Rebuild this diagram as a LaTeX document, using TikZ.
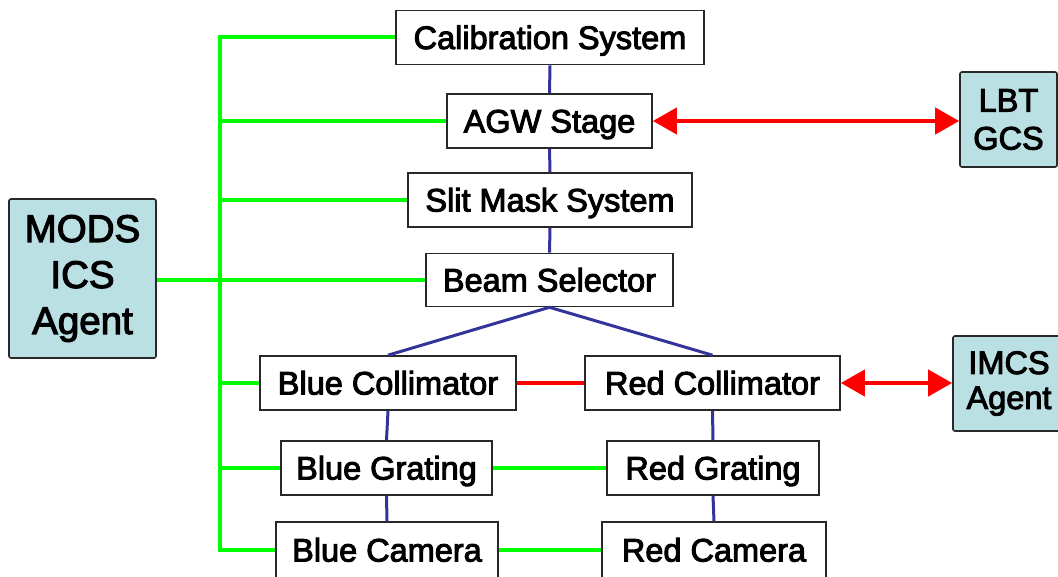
\documentclass[tikz,border=0pt]{standalone}
\usepackage{fontspec}
\setmainfont{Liberation Sans}
\newfontfamily\diagfont{Liberation Sans}[FakeBold=3]
\usetikzlibrary{arrows.meta}
\definecolor{busgreen}{RGB}{0,255,0}
\definecolor{navyline}{RGB}{51,51,153}
\definecolor{agentfill}{RGB}{187,224,227}
\definecolor{edgegray}{RGB}{40,40,40}
\begin{document}
\begin{tikzpicture}[x=1pt,y=-1pt,
  box/.style={draw=edgegray, line width=1.6pt, fill=white, inner sep=0pt,
    minimum height=54pt, text height=23pt, text depth=0pt,
    font=\diagfont\fontsize{32.5}{36}\selectfont},
  agent/.style={draw=edgegray, line width=1.6pt, fill=agentfill, rounded corners=2pt,
    inner sep=0pt, align=center},
  gline/.style={draw=busgreen, line width=4pt},
  bline/.style={draw=navyline, line width=3pt},
  rline/.style={draw=red, line width=4pt},
  rarrow/.style={rline, {Triangle[length=24pt,width=26pt]}-{Triangle[length=24pt,width=26pt]}}
]
\useasboundingbox (0,0) rectangle (1058,577);

% nodes
\node[box, minimum width=308pt] (cal) at (550,37.5) {Calibration System};
\node[box, minimum width=205pt] (agw) at (549.5,121) {AGW Stage};
\node[box, minimum width=284pt] (slit) at (550,200) {Slit Mask System};
\node[box, minimum width=247pt, minimum height=53pt] (beam) at (549.5,280) {Beam Selector};
\node[box, minimum width=256pt] (bcol) at (388,383) {Blue Collimator};
\node[box, minimum width=255pt] (rcol) at (712.5,383) {Red Collimator};
\node[box, minimum width=211pt] (bgr) at (386.5,468) {Blue Grating};
\node[box, minimum width=212pt] (rgr) at (713,468) {Red Grating};
\node[box, minimum width=222pt, minimum height=56pt] (bcam) at (387,550) {Blue Camera};
\node[box, minimum width=224pt, minimum height=56pt] (rcam) at (714,550) {Red Camera};

\node[agent, minimum width=147pt, minimum height=159pt,
  font=\diagfont\fontsize{38.5}{46}\selectfont] (mods) at (82.5,278.5) {MODS\\ICS\\Agent};
\node[agent, minimum width=97pt, minimum height=95pt,
  font=\diagfont\fontsize{32.5}{38}\selectfont] (lbt) at (1008.5,119.5) {LBT\\GCS};
\node[agent, minimum width=112pt, minimum height=95pt,
  font=\diagfont\fontsize{32.5}{35}\selectfont] (imcs) at (1009,383.5) {IMCS\\Agent};

% green control bus
\coordinate (busb) at (220,550);
\draw[gline] (cal.west) -| (busb) -- (bcam.west);
\draw[gline] (agw.west) -- (agw.west -| busb);
\draw[gline] (slit.west) -- (slit.west -| busb);
\draw[gline] (mods.east |- beam.west) -- (beam.west);
\draw[gline] (bcol.west) -- (bcol.west -| busb);
\draw[gline] (bgr.west) -- (bgr.west -| busb);
\draw[gline] (bgr.east) -- (rgr.west);
\draw[gline] (bcam.east) -- (rcam.west);

% blue optical path
\draw[bline] (cal.south) -- (agw.north);
\draw[bline] (agw.south) -- (slit.north);
\draw[bline] (slit.south) -- (beam.north);
\draw[bline] (bcol.north) -- (beam.south) -- (rcol.north);
\draw[bline] (bcol.south) -- (bgr.north);
\draw[bline] (bgr.south) -- (bcam.north);
\draw[bline] (rcol.south) -- (rgr.north);
\draw[bline] (rgr.south) -- (rcam.north);

% red links
\draw[rline] (bcol.east) -- (rcol.west);
\draw[rarrow] (agw.east) -- (agw.east -| lbt.west);
\draw[rarrow] (rcol.east) -- (rcol.east -| imcs.west);
\end{tikzpicture}
\end{document}
